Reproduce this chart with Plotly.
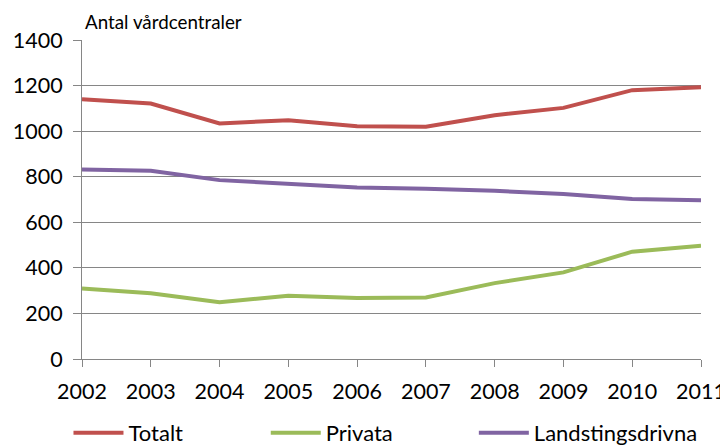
import plotly.graph_objects as go

years = [2002, 2003, 2004, 2005, 2006, 2007, 2008, 2009, 2010, 2011]
totalt = [1140, 1121, 1034, 1048, 1022, 1019, 1070, 1102, 1180, 1193]
privata = [309, 289, 249, 278, 268, 270, 333, 380, 471, 497]
landsting = [832, 826, 785, 770, 753, 747, 738, 724, 702, 697]
y_ticks = [0, 200, 400, 600, 800, 1000, 1200, 1400]

font_family = "Lato, 'Open Sans', sans-serif"

fig = go.Figure()
series = [("Totalt", totalt, "#C0504D", "legend"),
          ("Privata", privata, "#9BBB59", "legend2"),
          ("Landstingsdrivna", landsting, "#8064A2", "legend3")]
for name, vals, col, lg in series:
    fig.add_trace(go.Scatter(x=years, y=vals, name=name, mode="lines",
                             line=dict(color=col, width=4), legend=lg))

leg_common = dict(orientation="h", yanchor="middle", xanchor="left",
                  xref="container", yref="container",
                  font=dict(size=22, color="#000000", family=font_family),
                  bgcolor="rgba(0,0,0,0)", itemwidth=50)
# page has an 8px body margin, so the figure is 720x438 drawn at (8,8)
fig.update_layout(
    width=720, height=438,
    margin=dict(l=74, r=27, t=32, b=87, autoexpand=False),
    paper_bgcolor="white", plot_bgcolor="white",
    showlegend=True,
    legend=dict(x=0.084, y=0.0297, **leg_common),
    legend2=dict(x=0.358, y=0.0297, **leg_common),
    legend3=dict(x=0.647, y=0.0297, **leg_common),
    xaxis=dict(range=[2002, 2011], tickmode="array", tickvals=years,
               ticktext=[str(y) for y in years], showgrid=False,
               showline=True, linecolor="#868686", linewidth=1,
               ticks="outside", ticklen=7, tickcolor="#868686",
               ticklabelstandoff=6,
               tickfont=dict(size=21.5, color="#000000", family=font_family),
               zeroline=False, fixedrange=True, automargin=False),
    yaxis=dict(range=[0, 1400], tickmode="array", tickvals=y_ticks,
               showgrid=True, gridcolor="#868686", gridwidth=1,
               showline=True, linecolor="#868686", linewidth=1,
               ticks="outside", ticklen=8, tickcolor="#868686",
               ticklabelstandoff=6,
               tickfont=dict(size=21.5, color="#000000", family=font_family),
               zeroline=False, fixedrange=True, automargin=False),
)
fig.add_annotation(text="Antal vårdcentraler", xref="paper", yref="paper",
                   x=0.0, y=1.0, xanchor="left", yanchor="bottom", yshift=5, xshift=1,
                   showarrow=False, font=dict(size=18.8, color="#000000", family=font_family))
fig.write_html("out.html")
